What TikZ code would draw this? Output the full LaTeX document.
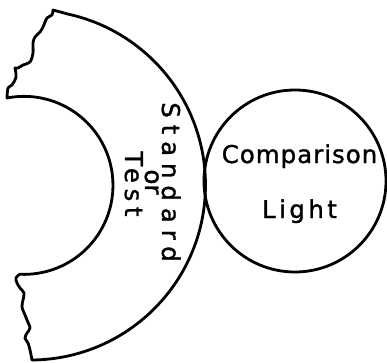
\documentclass[tikz,border=0pt]{standalone}
\usepackage{fontspec}
\setmainfont[FakeBold=1.2]{DejaVu Sans}
\begin{document}
\begin{tikzpicture}[x=1pt,y=1pt,line width=2.8pt,line join=round,
  lbl/.style={inner sep=0pt,anchor=base,font=\fontsize{24.5}{24.5}\selectfont},
  outline/.style={draw=black,line width=2.8pt}]
\useasboundingbox (0,0) rectangle (387,362);
% half annulus with broken left edge
\draw[outline] (66.9,348.2) -- (53,352)
  -- plot[smooth,tension=0.55] coordinates {(53,352) (52,347) (47,344) (43,335) (40,330) (35,325) (33,319) (33,309) (30,300) (23,297) (18,294) (15,294)}
  -- plot[smooth,tension=0.55] coordinates {(15,294) (16,285) (12,277) (8,274) (7,264)}
  arc[start angle=101,end angle=-92.6,radius=89]
  -- plot[smooth,tension=0.55] coordinates {(20,88) (16,84) (17,79) (20,74) (24,69) (23,62) (22,55) (25,47) (27,42) (30,34) (27,29) (25,24) (28,19) (30,12) (32,2)}
  arc[start angle=-89.5,end angle=78,radius=175] -- cycle;
% comparison light
\node[circle,draw,line width=2.8pt,minimum size=182pt,inner sep=0pt] (light) at (295,181) {};
\node[lbl] (cmp) at (299.5,199) {\addfontfeature{LetterSpace=4}Comparison};
\node[lbl] (lgt) at (299.5,144) {\addfontfeature{LetterSpace=14}Light};
% rotated labels
\node[lbl,rotate=-90] (std) at (162,180) {\addfontfeature{LetterSpace=28}Standard};
\node[lbl,rotate=-90] (orr) at (145,180) {or};
\node[lbl,rotate=-90] (tst) at (125,178) {\addfontfeature{LetterSpace=23}Test};
\end{tikzpicture}
\end{document}
